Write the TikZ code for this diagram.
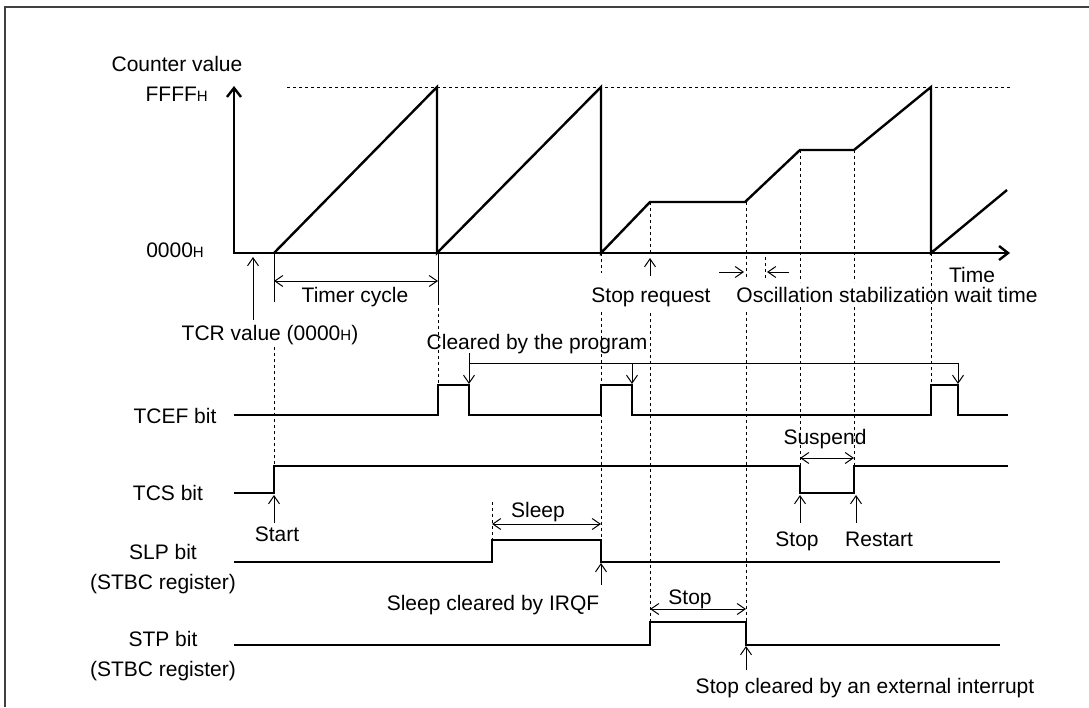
\documentclass[tikz,border=0pt]{standalone}
\usepackage{fontspec}
\setmainfont{Liberation Sans}
\usetikzlibrary{arrows.meta}
\newcommand{\hexh}{{\fontsize{15}{18}\selectfont H}}
\tikzstyle{wave} = [line width=2.4pt, line join=miter]
\tikzstyle{guide} = [line width=1pt, dash pattern=on 2.5pt off 3.5pt]
\tikzstyle{arrow} = [line width=1pt, -{Straight Barb[length=8pt,width=11pt]}]
\tikzstyle{dimarrow} = [line width=1pt, {Straight Barb[length=8pt,width=11pt]}-{Straight Barb[length=8pt,width=11pt]}]
\tikzstyle{axis} = [line width=2.4pt, {Straight Barb[length=9pt,width=14pt]}-{Straight Barb[length=9pt,width=14pt]}]
\tikzstyle{lbl} = [font=\fontsize{21}{30}\selectfont, inner sep=0pt, anchor=base, align=center]

\begin{document}
\begin{tikzpicture}[x=1pt, y=-1pt]
      \useasboundingbox (0,0) rectangle (1089,707);
      % Frame
      \draw [line width=1.3pt, black!75] (5,707) -- (5,7) -- (1089,7);
      % Counter graph
      \draw [axis] (234,86) -- (234,253) -- (1010,253);
      \draw [guide] (287,87) -- (1010,87);
      \draw [wave] (274,253) -- (437,87) -- (437,253) -- (601,87) -- (601,253)
            -- (650,202) -- (745,202) -- (800,150) -- (854,150) -- (931,87) -- (931,253) -- (1007,190);
      % Bit waveforms
      \draw [wave] (234,415) -- (438,415) -- (438,385) -- (469,385) -- (469,415) -- (601,415) -- (601,385)
            -- (632,385) -- (632,415) -- (931,415) -- (931,385) -- (958,385) -- (958,415) -- (1008,415);
      \draw [wave] (234,493) -- (274,493) -- (274,466) -- (800,466) -- (800,493) -- (854,493) -- (854,466) -- (1008,466);
      \draw [wave] (234,562) -- (492,562) -- (492,540) -- (601,540) -- (601,562) -- (1000,562);
      \draw [wave] (234,645) -- (650,645) -- (650,622) -- (746,622) -- (746,645) -- (1000,645);
      % Guides
      \draw [line width=1pt] (274,253) -- (274,302);
      \draw [line width=1pt] (438,253) -- (438,302);
      \draw [guide] (274,347) -- (274,466);
      \draw [guide] (438,302) -- (438,385);
      \draw [guide] (601,253) -- (601,273) (601,312) -- (601,540);
      \draw [guide] (650,202) -- (650,253) (650,313) -- (650,622);
      \draw [guide] (746,202) -- (746,278) (746,312) -- (746,622);
      \draw [guide] (765,257) -- (765,280);
      \draw [guide] (800,150) -- (800,282) (800,307) -- (800,466);
      \draw [guide] (854,150) -- (854,282) (854,307) -- (854,466);
      \draw [guide] (931,253) -- (931,385);
      \draw [guide] (492,502) -- (492,540);
      % Nodes
      \node (cntval) [lbl] at (177,71) {Counter value};
      \node (ffff) [lbl, anchor=base east] at (208,101) {FFFF\hexh};
      \node (zero) [lbl, anchor=base east] at (204,257) {0000\hexh};
      \node (time) [lbl] at (972,282) {Time};
      \node (cycle) [lbl] at (355,302) {Timer cycle};
      \node (tcr) [lbl] at (270,340) {TCR value (0000\hexh)};
      \node (stopreq) [lbl] at (651,302) {Stop request};
      \node (osc) [lbl] at (887,302) {Oscillation stabilization wait time};
      \node (cleared) [lbl] at (537,349) {Cleared by the program};
      \node (tcef) [lbl] at (175,423) {TCEF bit};
      \node (tcs) [lbl] at (168,500) {TCS bit};
      \node (slp) [lbl] at (163,589) {SLP bit\\(STBC register)};
      \node (stp) [lbl] at (163,676) {STP bit\\(STBC register)};
      \node (start) [lbl] at (277,541) {Start};
      \node (sleep) [lbl] at (538,517) {Sleep};
      \node (suspend) [lbl] at (825,444) {Suspend};
      \node (tcsstop) [lbl] at (797,546) {Stop};
      \node (restart) [lbl] at (879,546) {Restart};
      \node (irqf) [lbl] at (493,610) {Sleep cleared by IRQF};
      \node (stpstop) [lbl] at (690,604) {Stop};
      \node (extint) [lbl] at (865,693) {Stop cleared by an external interrupt};
      % Arrows
      \draw [dimarrow] (274,281) -- (438,281);
      \draw [arrow] (253,320) -- (253,257);
      \draw [arrow] (650,276) -- (650,258);
      \draw [arrow] (719,272) -- (744,272);
      \draw [arrow] (789,272) -- (767,272);
      \draw [line width=1pt] (469,363) -- (958,363);
      \draw [arrow] (469,353) -- (469,384);
      \draw [arrow] (632,363) -- (632,384);
      \draw [arrow] (958,363) -- (958,384);
      \draw [arrow] (274,523) -- (274,495);
      \draw [dimarrow] (492,524) -- (601,524);
      \draw [arrow] (601,585) -- (601,563);
      \draw [dimarrow] (800,458) -- (854,458);
      \draw [arrow] (800,523) -- (800,495);
      \draw [arrow] (856,523) -- (856,495);
      \draw [dimarrow] (650,609) -- (746,609);
      \draw [arrow] (746,670) -- (746,646);
    \end{tikzpicture}
\end{document}
